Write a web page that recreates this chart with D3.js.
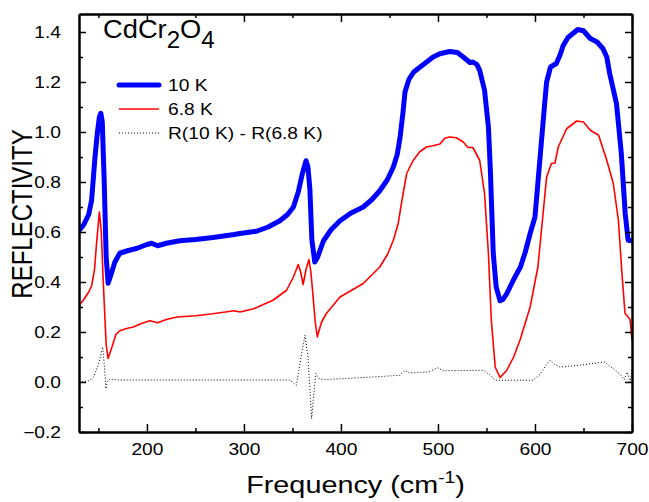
<!DOCTYPE html>
<html>
<head>
<meta charset="utf-8">
<script src="https://cdn.jsdelivr.net/npm/d3@7"></script>
<style>
  body { margin: 0; background: #fff; }
  text { font-family: 'Liberation Sans', Arial, sans-serif; fill: #000; }
</style>
</head>
<body>
<div id="viz"></div>
<script>
// frequency (cm-1) / reflectivity pairs
const freq10 = [130,135,140,143,146.5,149,151,152.5,154,156,158,160,163,167,172,180,190,200,205,211,220,234,250,268,290,296,313,325,337,345,351,356,360,364,366,368,370,373,376,382,390,399,410,423,432,440,448,454,458,461,464,466,470,475,485,495,502,512,520,526,533,536,540,543,548,552,554,557,560,564,567,571,578,585,590,595,600,605,610,612,616,619,622,626,629,634,641,644,650,657,664,670,674,677,684,689,693,696,700];
const refl10 = [0.605,0.63,0.67,0.727,0.9,1.0,1.06,1.075,1.04,0.8,0.5,0.395,0.43,0.48,0.515,0.525,0.535,0.55,0.555,0.545,0.555,0.565,0.57,0.578,0.59,0.594,0.603,0.62,0.645,0.67,0.7,0.76,0.83,0.885,0.86,0.77,0.57,0.48,0.5,0.565,0.61,0.645,0.675,0.7,0.73,0.765,0.81,0.86,0.91,0.98,1.08,1.16,1.21,1.24,1.27,1.3,1.313,1.322,1.318,1.3,1.278,1.28,1.27,1.247,1.167,1.02,0.847,0.514,0.38,0.325,0.33,0.354,0.41,0.46,0.52,0.594,0.66,0.887,1.114,1.2,1.26,1.267,1.274,1.31,1.345,1.378,1.4,1.41,1.405,1.374,1.36,1.334,1.3,1.234,1.114,0.914,0.674,0.567,0.565];

const freq68 = [130,135,140,143,146,148,151,153,155,158,160,164,168,172,180,186,195,203,211,220,231,250,268,290,296,310,330,344,351,356,358.5,361,364,367,369,371,373.5,375.6,380,385,399,423,440,448,454,459,462.6,467.7,474.6,481,488,495,502,507,512,519,526,531,536,543,548,552,555,559,564,571,578,584.5,595,603,607,612,617,620.6,624,632.6,643,650,657,665.6,674,680.7,686,689.4,692.8,696,698,700];
const refl68 = [0.305,0.33,0.36,0.385,0.45,0.55,0.68,0.6,0.4,0.15,0.094,0.14,0.19,0.205,0.215,0.22,0.235,0.245,0.237,0.25,0.26,0.265,0.273,0.285,0.28,0.293,0.327,0.367,0.42,0.47,0.44,0.39,0.45,0.49,0.44,0.354,0.24,0.18,0.24,0.274,0.34,0.394,0.46,0.51,0.567,0.634,0.72,0.834,0.887,0.92,0.94,0.945,0.952,0.975,0.98,0.977,0.96,0.938,0.938,0.887,0.754,0.514,0.247,0.06,0.018,0.047,0.1,0.167,0.3,0.46,0.62,0.82,0.874,0.876,0.94,1.013,1.044,1.04,1.007,0.987,0.887,0.794,0.647,0.447,0.274,0.26,0.25,0.167];

const freqDiff = [130,140,145,150,152,154.4,156,157.8,159,162,170,200,300,347,354,359.5,363,366,369.8,372,374,378,385,433,461,466,470,490,500,505,547,553,559,598,605,612,615.5,620,626,646,672,682.5,688,692,695,698,700];
const reflDiff = [0.0,0.005,0.02,0.07,0.1,0.14,0.07,-0.027,0.0,0.012,0.008,0.008,0.008,0.008,-0.013,0.113,0.187,0.1,-0.147,-0.05,0.034,0.012,0.01,0.02,0.027,0.047,0.036,0.04,0.057,0.045,0.047,0.03,0.007,0.007,0.03,0.07,0.087,0.07,0.06,0.067,0.08,0.047,0.03,0.01,0.04,0.0,0.05];

const seriesNames = ['10 K', '6.8 K', 'R(10 K) - R(6.8 K)'];
const xTicks = [200, 300, 400, 500, 600, 700];
const xMinor = [150, 250, 350, 450, 550, 650];
const yTicks = [-0.2, 0.0, 0.2, 0.4, 0.6, 0.8, 1.0, 1.2, 1.4];
const yMinor = [-0.1, 0.1, 0.3, 0.5, 0.7, 0.9, 1.1, 1.3];

const w = 649;
const h = 502;
const mLeft = 79, mRight = 632, mTop = 14, mBottom = 432;
const sx = 1.2; // text in the picture is a bit wider than tall

const svg = d3.select('#viz').
append('svg').
attr('width', w).
attr('height', h);

const xScale = d3.scaleLinear().domain([130, 700]).range([mLeft, mRight]);
const yScale = d3.scaleLinear().domain([-0.2, 1.472]).range([mBottom, mTop]);

svg.append('clipPath').attr('id', 'clip').
append('rect').
attr('x', mLeft).attr('y', mTop).
attr('width', mRight - mLeft).attr('height', mBottom - mTop);

const line = d3.line().
x(d => xScale(d[0])).
y(d => yScale(d[1]));

const zip = (a, b) => a.map((v, i) => [v, b[i]]);

const plot = svg.append('g').attr('clip-path', 'url(#clip)');

plot.append('path').
datum(zip(freqDiff, reflDiff)).
attr('d', line).
attr('fill', 'none').
attr('stroke', '#000').
attr('stroke-width', 1).
attr('stroke-dasharray', '1,2');

plot.append('path').
datum(zip(freq68, refl68)).
attr('d', line).
attr('fill', 'none').
attr('stroke', '#ff0000').
attr('stroke-width', 1.6).
attr('stroke-linejoin', 'round');

plot.append('path').
datum(zip(freq10, refl10)).
attr('d', line).
attr('fill', 'none').
attr('stroke', '#0000ff').
attr('stroke-width', 5).
attr('stroke-linejoin', 'round').
attr('stroke-linecap', 'round');

// axes: ticks point inward on all four sides
function frameAxis(axisFn, scale, pos, values, size) {
  return svg.append('g').
  attr('transform', pos).
  call(axisFn(scale).tickValues(values).tickSize(size).tickSizeOuter(0).tickFormat('')).
  call(g => g.selectAll('line').attr('stroke-width', 1.5)).
  call(g => g.select('.domain').attr('stroke-width', 2));
}

frameAxis(d3.axisBottom, xScale, 'translate(0,' + mBottom + ')', xTicks, -8);
frameAxis(d3.axisBottom, xScale, 'translate(0,' + mBottom + ')', xMinor, -4);
frameAxis(d3.axisTop, xScale, 'translate(0,' + mTop + ')', xTicks, -8);
frameAxis(d3.axisTop, xScale, 'translate(0,' + mTop + ')', xMinor, -4);
frameAxis(d3.axisLeft, yScale, 'translate(' + mLeft + ',0)', yTicks, -7);
frameAxis(d3.axisLeft, yScale, 'translate(' + mLeft + ',0)', yMinor, -4);
frameAxis(d3.axisRight, yScale, 'translate(' + mRight + ',0)', yTicks, -7);
frameAxis(d3.axisRight, yScale, 'translate(' + mRight + ',0)', yMinor, -4);

// tick labels
svg.append('g').
attr('transform', 'translate(0,' + mBottom + ')').
call(d3.axisBottom(xScale).tickValues(xTicks).tickSize(0).tickFormat(d3.format('d'))).
call(g => g.select('.domain').remove()).
call(g => g.selectAll('text').
  attr('y', 23).attr('dy', 0).
  attr('transform', 'scale(' + sx + ',1)').
  style('font-size', '16px').
  style('font-family', "'Liberation Sans', Arial, sans-serif"));

svg.append('g').
attr('transform', 'translate(' + mLeft + ',0)').
call(d3.axisLeft(yScale).tickValues(yTicks).tickSize(0).tickFormat(d3.format('.1f'))).
call(g => g.select('.domain').remove()).
call(g => g.selectAll('text').
  attr('x', -18 / sx).attr('dy', '0.36em').
  attr('transform', 'scale(' + sx + ',1)').
  style('font-size', '16px').
  style('font-family', "'Liberation Sans', Arial, sans-serif"));

// axis titles
const xt = svg.append('text').
attr('transform', 'translate(' + (mLeft + mRight) / 2 + ',493) scale(' + sx + ',1)').
attr('text-anchor', 'middle').
style('font-size', '24px');
xt.append('tspan').text('Frequency (cm');
xt.append('tspan').text('-1').attr('dy', -10).style('font-size', '16px');
xt.append('tspan').text(')').attr('dy', 10);

svg.append('text').
text('REFLECTIVITY').
attr('transform', 'translate(32,214) scale(' + sx + ',1) rotate(-90)').
attr('text-anchor', 'middle').
style('font-size', '24px');

// compound label
const ct = svg.append('text').
attr('transform', 'translate(103,38) scale(1.05,1)').
style('font-size', '26px');
ct.append('tspan').text('CdCr');
ct.append('tspan').text('2').attr('dy', 10).style('font-size', '23px');
ct.append('tspan').text('O').attr('dy', -10);
ct.append('tspan').text('4').attr('dy', 10).style('font-size', '23px');

// legend
const legendY = [85, 109, 133];
const legendStyle = [
  {stroke: '#0000ff', width: 5, dash: null},
  {stroke: '#ff0000', width: 1.6, dash: null},
  {stroke: '#000', width: 1, dash: '1,2'}
];

const legend = svg.append('g');
seriesNames.forEach(function (name, i) {
  legend.append('line').
  attr('x1', 119).attr('x2', 159).
  attr('y1', legendY[i]).attr('y2', legendY[i]).
  attr('stroke', legendStyle[i].stroke).
  attr('stroke-width', legendStyle[i].width).
  attr('stroke-linecap', i == 0 ? 'round' : 'butt').
  attr('stroke-dasharray', legendStyle[i].dash);

  legend.append('text').
  text(name).
  attr('transform', 'translate(168,' + (legendY[i] + 6) + ') scale(' + sx + ',1)').
  style('font-size', '16px');
});
</script>
</body>
</html>
